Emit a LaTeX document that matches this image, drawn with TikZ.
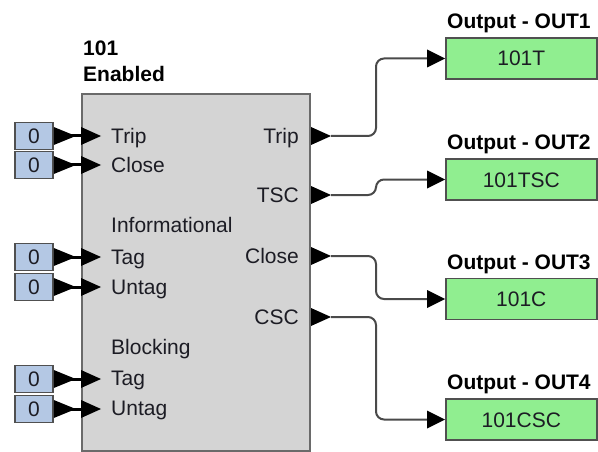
\documentclass[tikz,border=0pt]{standalone}
\usepackage{fontspec}
\setmainfont{Liberation Sans}
\usetikzlibrary{calc}
\definecolor{blockfill}{HTML}{D4D4D4}
\definecolor{blockline}{HTML}{6A6A6A}
\definecolor{inblue}{HTML}{B4C8E4}
\definecolor{outgreen}{HTML}{90EE90}
\definecolor{boxline}{HTML}{505050}
\definecolor{wiregray}{HTML}{4A4A4A}
\definecolor{txt}{HTML}{1C1C24}
% port triangle: base at #1, pointing right, length #2
\newcommand\porttri[2]{\fill[black] (#1) ++(0,-9) -- ++(#2,9) -- ++(-#2,9) -- cycle;}
\begin{document}
\begin{tikzpicture}[x=1pt,y=-1pt,
  every node/.style={font=\fontsize{21pt}{23pt}\selectfont, text=txt},
  lbl/.style={inner sep=0pt, text height=15pt, text depth=0pt},
  ttl/.style={lbl, font=\bfseries\fontsize{21pt}{23pt}\selectfont, text=black},
  block/.style={draw=blockline, fill=blockfill, line width=2pt, minimum width=228pt, minimum height=357pt, inner sep=0pt},
  inbox/.style={draw=boxline, fill=inblue, line width=1.6pt, minimum width=38pt, minimum height=27pt, inner sep=0pt, text height=15pt, text depth=0pt},
  outbox/.style={draw=boxline, fill=outgreen, line width=1.6pt, minimum width=151pt, minimum height=41pt, inner sep=0pt, text height=15pt, text depth=0pt},
  inwire/.style={draw=black, line width=3pt},
  outwire/.style={draw=wiregray, line width=2pt, rounded corners=8pt}]
\useasboundingbox (0,0) rectangle (598,452);

% main block
\node[block, anchor=north west] (blk) at (81,93) {};
\node[ttl, anchor=west] (t101) at (83,48) {101};
\node[ttl, anchor=west] (ten) at (83,74) {Enabled};

% left labels
\node[lbl, anchor=west] (lTrip) at (111,136) {Trip};
\node[lbl, anchor=west] (lClose) at (111,165) {Close};
\node[lbl, anchor=west] (lInfo) at (111,225) {Informational};
\node[lbl, anchor=west] (lTag1) at (111,257) {Tag};
\node[lbl, anchor=west] (lUntag1) at (111,287) {Untag};
\node[lbl, anchor=west] (lBlock) at (111,347) {Blocking};
\node[lbl, anchor=west] (lTag2) at (111,378) {Tag};
\node[lbl, anchor=west] (lUntag2) at (111,408) {Untag};

% inputs
\foreach \yy [count=\k] in {136,165,257,287,379,409} {
  \node[inbox] (i\k) at (34,\yy) {0};
  \coordinate (bp\k) at (blk.west |- i\k.east);
  \draw[inwire] (i\k.east) -- (bp\k);
  \porttri{i\k.east}{22}
  \porttri{bp\k}{20}
}

% outputs
\foreach \ry/\ty/\nm/\lab [count=\k] in {136/58.5/101T/Trip, 195/179.5/101TSC/TSC, 256/299/101C/Close, 317/419.5/101CSC/CSC} {
  \node[lbl, anchor=east] (r\k) at (299,\ry) {\lab};
  \coordinate (op\k) at (blk.east |- r\k.east);
  \node[outbox, anchor=west] (o\k) at (445,\ty) {\nm};
  \node[ttl, anchor=west] (t\k) at (447,\ty-37.5) {Output - OUT\k};
  \coordinate (ow\k) at ($(op\k)+(20,0)$);
  \coordinate (oi\k) at ($(o\k.west)+(-18,0)$);
  \draw[outwire] (ow\k) -- (376,\ry) |- (oi\k);
  \porttri{op\k}{20}
  \porttri{oi\k}{18}
}
\end{tikzpicture}
\end{document}
